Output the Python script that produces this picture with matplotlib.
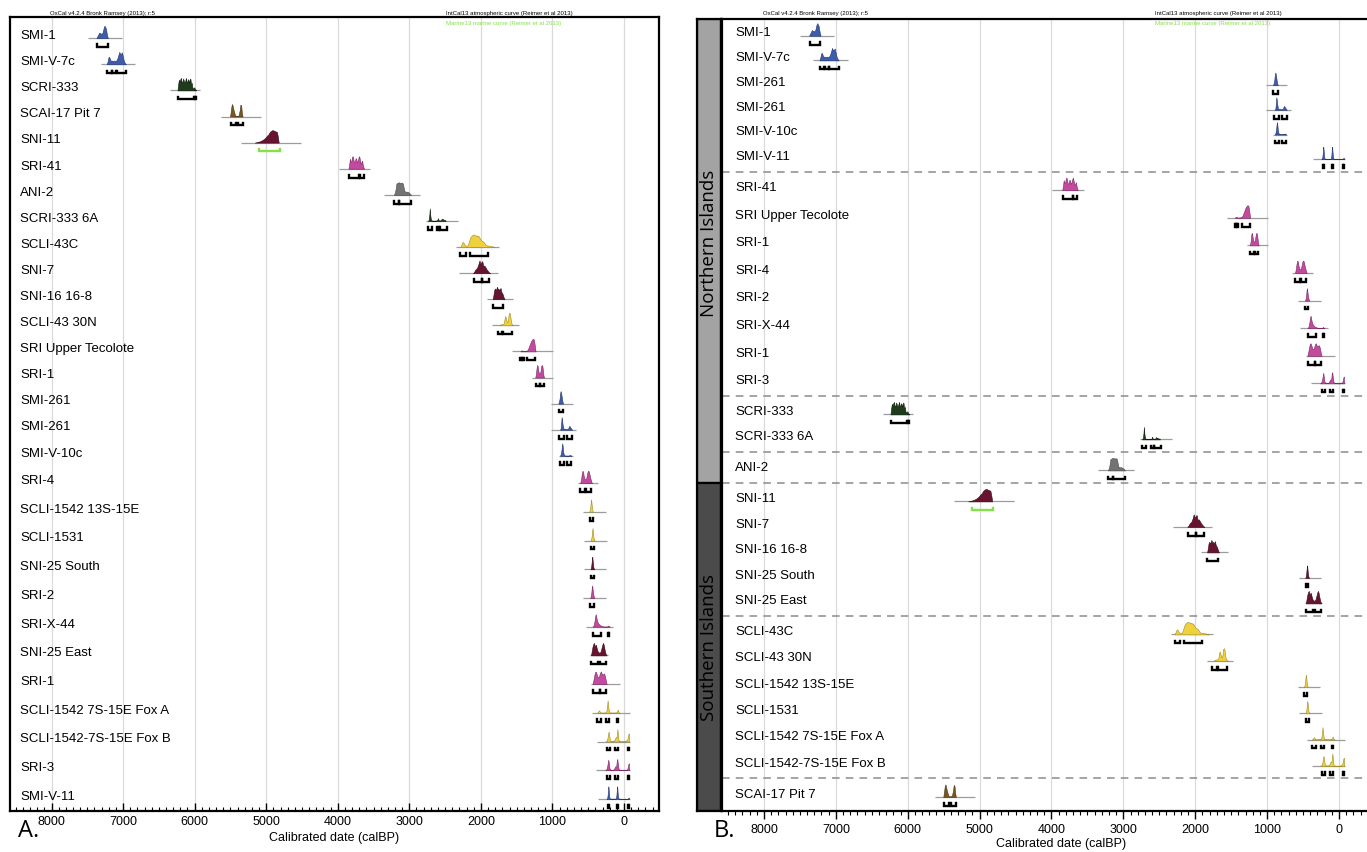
import re
import matplotlib
matplotlib.use("Agg")
import matplotlib.pyplot as plt
from matplotlib.ticker import MultipleLocator
from matplotlib.patches import Rectangle
import numpy as np

plt.rcParams['font.family'] = ['Liberation Sans', 'DejaVu Sans']

# ---------------------------------------------------------------------------
# Calibrated probability profiles (calBP, relative probability) per sample
# ---------------------------------------------------------------------------
density_dates = {
    'SMI-1': [7372, 7360, 7345, 7335, 7320, 7305, 7290, 7280, 7268, 7258, 7248, 7240, 7232, 7222, 7212],
    'SMI-V-7c': [7228, 7215, 7205, 7195, 7185, 7175, 7160, 7140, 7120, 7105, 7090, 7078, 7065, 7052,
                 7040, 7028, 7015, 7005, 6990, 6975, 6960],
    'SCRI-333': [6240, 6230, 6220, 6212, 6200, 6190, 6180, 6170, 6160, 6150, 6140, 6130, 6120, 6110,
                 6100, 6090, 6080, 6070, 6060, 6050, 6040, 6030, 6015, 6005, 5995, 5985, 5978],
    'SCAI-17 Pit 7': [5505, 5495, 5485, 5475, 5465, 5455, 5445, 5435, 5420, 5400, 5385, 5370, 5360,
                      5350, 5340, 5330],
    'SNI-11': [5160, 5120, 5080, 5040, 5010, 4990, 4970, 4950, 4930, 4910, 4890, 4870, 4850, 4835, 4825],
    'SRI-41': [3850, 3840, 3830, 3820, 3810, 3800, 3790, 3780, 3770, 3760, 3750, 3740, 3730, 3720,
               3710, 3700, 3690, 3680, 3670, 3660, 3650, 3640, 3632],
    'ANI-2': [3215, 3200, 3190, 3180, 3165, 3150, 3135, 3120, 3105, 3090, 3080, 3070, 3050, 3030,
              3010, 2990, 2976],
    'SCRI-333 6A': [2740, 2728, 2720, 2714, 2708, 2700, 2690, 2680, 2640, 2610, 2600, 2590, 2580,
                    2560, 2545, 2535, 2525, 2510, 2500, 2490],
    'SCLI-43C': [2290, 2275, 2262, 2250, 2238, 2225, 2212, 2200, 2185, 2170, 2158, 2145, 2130, 2115,
                 2100, 2090, 2080, 2070, 2060, 2050, 2040, 2030, 2015, 2000, 1985, 1970, 1950, 1930,
                 1910, 1880, 1850, 1830, 1810],
    'SNI-7': [2110, 2095, 2085, 2075, 2065, 2055, 2045, 2035, 2025, 2018, 2010, 2000, 1990, 1980,
              1970, 1960, 1950, 1935, 1920, 1900, 1885, 1872],
    'SNI-16 16-8': [1835, 1825, 1815, 1805, 1795, 1785, 1775, 1765, 1755, 1745, 1735, 1725, 1715,
                    1705, 1695, 1685, 1670],
    'SCLI-43 30N': [1745, 1720, 1700, 1690, 1680, 1670, 1660, 1650, 1640, 1630, 1620, 1610, 1600,
                    1590, 1580, 1570, 1560, 1550],
    'SRI Upper Tecolote': [1450, 1440, 1430, 1420, 1410, 1395, 1380, 1365, 1350, 1340, 1330, 1320,
                           1310, 1300, 1290, 1280, 1270, 1260, 1250, 1240, 1235],
    'SRI-1/a': [1240, 1230, 1222, 1215, 1208, 1200, 1190, 1180, 1172, 1165, 1155, 1148, 1140, 1132,
                1125, 1117],
    'SMI-261/a': [918, 908, 900, 893, 886, 880, 872, 865, 858, 850],
    'SMI-261/b': [895, 885, 878, 872, 866, 860, 852, 845, 835, 820, 800, 785, 775, 768, 760, 752,
                  745, 735, 725],
    'SMI-V-10c': [895, 885, 875, 868, 862, 856, 850, 840, 830, 800, 770, 760, 752, 745, 735],
    'SRI-4': [612, 600, 590, 580, 572, 562, 552, 540, 530, 520, 510, 500, 492, 482, 470, 458, 448],
    'SCLI-1542 13S-15E': [490, 480, 472, 465, 460, 455, 448, 440, 430],
    'SCLI-1531': [470, 460, 452, 445, 440, 434, 428, 420, 410],
    'SNI-25 South': [470, 462, 455, 448, 443, 438, 432, 425, 415],
    'SRI-2': [475, 466, 458, 450, 444, 438, 430, 422, 412],
    'SRI-X-44': [440, 425, 412, 402, 395, 388, 378, 365, 350, 335, 320, 305, 290, 240, 228, 220,
                 212, 200],
    'SNI-25 East': [462, 452, 440, 430, 420, 410, 400, 392, 382, 370, 355, 340, 325, 312, 300, 292,
                    284, 276, 265, 255, 245],
    'SRI-1/b': [440, 428, 415, 405, 395, 385, 372, 360, 350, 340, 330, 322, 312, 300, 290, 280, 270,
                258, 248, 240],
    'SCLI-1542 7S-15E Fox A': [380, 365, 355, 348, 340, 330, 300, 260, 245, 235, 229, 222, 212, 200,
                               150, 110, 95, 88, 82, 75, 60],
    'SCLI-1542-7S-15E Fox B': [260, 245, 232, 222, 214, 207, 198, 185, 165, 145, 130, 120, 112, 105,
                               98, 92, 86, 78, 68, 40, 0, -20, -45, -55, -62, -67, -72],
    'SRI-3': [262, 248, 235, 226, 219, 212, 203, 190, 170, 150, 135, 125, 116, 108, 100, 94, 86, 76,
              65, 30, -10, -40, -52, -60, -66, -72],
    'SMI-V-11': [245, 235, 228, 222, 218, 213, 207, 198, 150, 115, 106, 100, 95, 90, 84, 75, 20,
                 -50, -60, -66, -72],
}

density_values = {
    'SMI-1': [0, .15, .3, .45, .4, .35, .4, .6, .9, 1.0, .85, .8, .5, .2, 0],
    'SMI-V-7c': [0, .25, .55, .6, .45, .3, .3, .28, .3, .25, .35, .5, .75, 1.0, .8, .85, .95, .7, .3, .1, 0],
    'SCRI-333': [0, .5, .85, .7, .9, 1.0, .6, .7, .95, .75, .6, .8, 1.0, .65, .7, .9, .6, .85, .95,
                 .5, .6, .2, .15, .25, .1, .05, 0],
    'SCAI-17 Pit 7': [0, .4, .85, 1.0, .75, .5, .3, .1, .05, .05, .1, .5, .95, .9, .3, 0],
    'SNI-11': [0, .05, .12, .25, .4, .55, .65, .85, .95, 1.0, .95, .9, .85, .4, 0],
    'SRI-41': [0, .35, .8, .55, .6, .95, 1.0, .7, .5, .55, .85, .75, .5, .6, .9, 1.0, .7, .4, .5,
               .65, .3, .1, 0],
    'ANI-2': [0, .2, .5, .9, .95, 1.0, .97, .95, .98, .9, .6, .3, .25, .25, .2, .08, 0],
    'SCRI-333 6A': [0, .1, .5, 1.0, .5, .15, .05, .02, .02, .05, .22, .05, .03, .05, .18, .15, .12,
                    .05, .08, 0],
    'SCLI-43C': [0, .15, .35, .4, .3, .15, .1, .08, .15, .35, .6, .8, .9, .98, 1.0, .97, .95, .9,
                 .93, .85, .9, .85, .7, .55, .5, .45, .3, .15, .12, .1, .06, .03, 0],
    'SNI-7': [0, .1, .2, .3, .35, .4, .55, .7, .95, 1.0, .75, .8, .9, .95, .65, .55, .6, .45, .3,
              .15, .05, 0],
    'SNI-16 16-8': [0, .3, .7, .85, .75, .8, 1.0, .8, .85, .7, .8, .9, .6, .5, .4, .2, 0],
    'SCLI-43 30N': [0, .08, .1, .12, .15, .5, .75, .55, .3, .25, .5, .95, 1.0, .8, .3, .1, .04, 0],
    'SRI Upper Tecolote': [0, .06, .08, .05, .02, .02, .03, .05, .1, .2, .35, .5, .65, .8, .9, .98,
                           1.0, .95, .6, .15, 0],
    'SRI-1/a': [0, .3, .75, 1.0, .95, .6, .35, .3, .35, .6, .95, 1.0, .9, .5, .15, 0],
    'SMI-261/a': [0, .15, .4, .8, 1.0, .9, .6, .3, .1, 0],
    'SMI-261/b': [0, .1, .5, 1.0, .85, .5, .2, .1, .08, .06, .05, .08, .15, .3, .28, .2, .15, .05, 0],
    'SMI-V-10c': [0, .1, .4, .8, 1.0, .7, .3, .1, .03, .02, .02, .06, .08, .04, 0],
    'SRI-4': [0, .3, .75, 1.0, .9, .55, .35, .3, .35, .6, .9, 1.0, .95, .7, .4, .15, 0],
    'SCLI-1542 13S-15E': [0, .1, .35, .8, 1.0, .75, .3, .08, 0],
    'SCLI-1531': [0, .1, .35, .8, 1.0, .7, .3, .08, 0],
    'SNI-25 South': [0, .1, .4, .85, 1.0, .7, .3, .1, 0],
    'SRI-2': [0, .1, .35, .85, 1.0, .65, .3, .1, 0],
    'SRI-X-44': [0, .1, .45, .85, 1.0, .8, .5, .3, .2, .12, .08, .05, .02, .01, .05, .1, .04, 0],
    'SNI-25 East': [0, .3, .7, .9, 1.0, .8, .75, .85, .6, .35, .25, .2, .35, .65, .9, 1.0, .85, .6,
                    .3, .1, 0],
    'SRI-1/b': [0, .3, .7, .95, 1.0, .85, .6, .55, .6, .8, .95, 1.0, .85, .75, .8, .85, .7, .4, .1, 0],
    'SCLI-1542 7S-15E Fox A': [0, .05, .15, .2, .12, .03, .02, .03, .15, .6, 1.0, .6, .15, .03, .02,
                               .03, .12, .25, .15, .04, 0],
    'SCLI-1542-7S-15E Fox B': [0, .05, .25, .6, .8, .5, .15, .05, .03, .05, .15, .3, .35, .3, .6,
                               1.0, .6, .15, .03, .01, .01, .03, .15, .4, .6, .65, 0],
    'SRI-3': [0, .05, .3, .6, .85, .55, .15, .05, .02, .04, .15, .3, .3, .35, .8, .9, .5, .12, .03,
              .01, .01, .05, .2, .45, .55, 0],
    'SMI-V-11': [0, .05, .35, .8, 1.0, .7, .2, .02, .02, .03, .3, .8, 1.0, .6, .2, .02, .01, .01,
                 .08, .12, 0],
}

# extent of the plotted calibration window (grey base line), calBP
baseline_span = {
    'SMI-1': (7495, 7020), 'SMI-V-7c': (7311, 6835), 'SCRI-333': (6340, 5930),
    'SCAI-17 Pit 7': (5625, 5070), 'SNI-11': (5356, 4518), 'SRI-41': (3986, 3548),
    'ANI-2': (3357, 2857), 'SCRI-333 6A': (2771, 2319), 'SCLI-43C': (2343, 1752),
    'SNI-7': (2310, 1762), 'SNI-16 16-8': (1919, 1548), 'SCLI-43 30N': (1843, 1471),
    'SRI Upper Tecolote': (1563, 986), 'SRI-1/a': (1282, 986), 'SMI-261/a': (1014, 718),
    'SMI-261/b': (1014, 671), 'SMI-V-10c': (915, 718), 'SRI-4': (648, 366),
    'SCLI-1542 13S-15E': (577, 258), 'SCLI-1531': (563, 235), 'SNI-25 South': (562, 252),
    'SRI-2': (571, 252), 'SRI-X-44': (538, 157), 'SNI-25 East': (470, 230),
    'SRI-1/b': (457, 62), 'SCLI-1542 7S-15E Fox A': (443, -81),
    'SCLI-1542-7S-15E Fox B': (371, -81), 'SRI-3': (395, -81), 'SMI-V-11': (362, -81),
}

# 95.4% probability ranges, calBP
ranges95 = {
    'SMI-1': [(7365, 7215)],
    'SMI-V-7c': [(7225, 7160), (7150, 7100), (7090, 6960)],
    'SCRI-333': [(6235, 6010), (6000, 5985)],
    'SCAI-17 Pit 7': [(5495, 5420), (5400, 5330)],
    'SNI-11': [(5106, 4810)],
    'SRI-41': [(3845, 3700), (3695, 3640)],
    'ANI-2': [(3210, 3150), (3145, 2980)],
    'SCRI-333 6A': [(2740, 2690), (2620, 2580), (2570, 2470)],
    'SCLI-43C': [(2285, 2205), (2157, 1905)],
    'SNI-7': [(2100, 1990), (1985, 1880)],
    'SNI-16 16-8': [(1833, 1690)],
    'SCLI-43 30N': [(1760, 1700), (1690, 1560)],
    'SRI Upper Tecolote': [(1450, 1430), (1420, 1400), (1350, 1240)],
    'SRI-1/a': [(1235, 1180), (1175, 1120)],
    'SMI-261/a': [(915, 855)],
    'SMI-261/b': [(905, 840), (790, 720)],
    'SMI-V-10c': [(896, 836), (793, 737)],
    'SRI-4': [(610, 540), (535, 460)],
    'SCLI-1542 13S-15E': [(480, 440)],
    'SCLI-1531': [(465, 420)],
    'SNI-25 South': [(465, 425)],
    'SRI-2': [(470, 425)],
    'SRI-X-44': [(430, 325), (228, 210)],
    'SNI-25 East': [(455, 360), (335, 250)],
    'SRI-1/b': [(435, 340), (330, 245)],
    'SCLI-1542 7S-15E Fox A': [(375, 320), (250, 205), (92, 80)],
    'SCLI-1542-7S-15E Fox B': [(235, 195), (130, 80), (-50, -75)],
    'SRI-3': [(235, 200), (130, 85), (-50, -75)],
    'SMI-V-11': [(225, 212), (102, 90), (-55, -75)],
}

# samples calibrated against the marine curve
marine_samples = ['SNI-11']

# plotting order, panel A (chronological)
order_a = ['SMI-1', 'SMI-V-7c', 'SCRI-333', 'SCAI-17 Pit 7', 'SNI-11', 'SRI-41', 'ANI-2',
           'SCRI-333 6A', 'SCLI-43C', 'SNI-7', 'SNI-16 16-8', 'SCLI-43 30N', 'SRI Upper Tecolote',
           'SRI-1/a', 'SMI-261/a', 'SMI-261/b', 'SMI-V-10c', 'SRI-4', 'SCLI-1542 13S-15E',
           'SCLI-1531', 'SNI-25 South', 'SRI-2', 'SRI-X-44', 'SNI-25 East', 'SRI-1/b',
           'SCLI-1542 7S-15E Fox A', 'SCLI-1542-7S-15E Fox B', 'SRI-3', 'SMI-V-11']

# panel B, grouped by island
groups_b = [
    ['SMI-1', 'SMI-V-7c', 'SMI-261/a', 'SMI-261/b', 'SMI-V-10c', 'SMI-V-11'],
    ['SRI-41', 'SRI Upper Tecolote', 'SRI-1/a', 'SRI-4', 'SRI-2', 'SRI-X-44', 'SRI-1/b', 'SRI-3'],
    ['SCRI-333', 'SCRI-333 6A'],
    ['ANI-2'],
    ['SNI-11', 'SNI-7', 'SNI-16 16-8', 'SNI-25 South', 'SNI-25 East'],
    ['SCLI-43C', 'SCLI-43 30N', 'SCLI-1542 13S-15E', 'SCLI-1531', 'SCLI-1542 7S-15E Fox A',
     'SCLI-1542-7S-15E Fox B'],
    ['SCAI-17 Pit 7'],
]
regions = ['Northern Islands', 'Southern Islands']
northern_group_count = 4

island_colours = {
    'SMI': '#3d5cab', 'SRI': '#c24b9f', 'SCRI': '#1f3b1b', 'SCAI': '#7a5622',
    'SNI': '#671430', 'ANI': '#737373', 'SCLI': '#efd13e',
}
edge_colours = {
    'SMI': '#23366e', 'SRI': '#7a2463', 'SCRI': '#0c1a0a', 'SCAI': '#4a3210',
    'SNI': '#3a0818', 'ANI': '#444444', 'SCLI': '#a08a20',
}

# ---------------------------------------------------------------------------
# Layout (pixel based)
# ---------------------------------------------------------------------------
W, H = 1367, 853
fig = plt.figure(figsize=(W / 100, H / 100), dpi=100)


def add_px_axes(x0, y0, x1, y1):
    return fig.add_axes([x0 / W, 1 - y1 / H, (x1 - x0) / W, (y1 - y0) / H])


PEAK = 12.5      # px height of a normalised distribution
BASE_OFF = 3.2   # base line below the row centre
BRACKET_OFF = 12.0
TICK_UP = 2.6
LABEL_SIZE = 9.5


def draw_sample(ax, key, y):
    island = re.match(r'[A-Z]+', key).group(0)
    base = y + BASE_OFF
    x0, x1 = baseline_span[key]
    ax.plot([x0, x1], [base, base], color='#9c9c9c', lw=0.9, zorder=2,
            solid_capstyle='butt')
    d = np.asarray(density_dates[key], dtype=float)
    v = np.asarray(density_values[key], dtype=float)
    ax.fill_between(d, base, base - PEAK * v, facecolor=island_colours[island],
                    edgecolor=edge_colours[island], lw=0.4, zorder=3)
    bcol = '#86e04a' if key in marine_samples else 'black'
    yb = y + BRACKET_OFF
    for a, b in ranges95[key]:
        ax.plot([a, a, b, b], [yb - TICK_UP, yb, yb, yb - TICK_UP], color=bcol, lw=1.7,
                solid_joinstyle='miter', zorder=3)


def label_row(ax, key, y, offset):
    ax.annotate(key.split('/')[0], xy=(0, y), xycoords=('axes fraction', 'data'),
                xytext=(offset, 0), textcoords='offset pixels', fontsize=LABEL_SIZE,
                va='center', ha='left')


def style_axis(ax, tickdir, labelpad):
    ax.xaxis.set_major_locator(MultipleLocator(1000))
    ax.xaxis.set_minor_locator(MultipleLocator(100))
    ax.set_yticks([])
    ax.tick_params(axis='x', which='major', direction=tickdir, length=6, width=1.0,
                   labelsize=9, pad=3, top=False)
    ax.tick_params(axis='x', which='minor', direction=tickdir, length=3, width=0.8, top=False)
    ax.grid(axis='x', which='major', color='#dadada', lw=0.9, zorder=0)
    ax.set_axisbelow(True)
    for s in ax.spines.values():
        s.set_linewidth(1.6)
    ax.set_xlabel('Calibrated date (calBP)', fontsize=9, labelpad=labelpad)


def header(x_oxcal, x_curve, y_top):
    fig.text(x_oxcal / W, 1 - y_top / H, 'OxCal v4.2.4 Bronk Ramsey (2013); r:5',
             fontsize=4.3, va='center')
    fig.text(x_curve / W, 1 - y_top / H, 'IntCal13 atmospheric curve (Reimer et al 2013)',
             fontsize=4.3, va='center')
    fig.text(x_curve / W, 1 - (y_top + 9) / H, 'Marine13 marine curve (Reimer et al 2013)',
             fontsize=4.3, va='center', color='#86e04a')


# ----- panel A -------------------------------------------------------------
A_TOP, A_BOT = 18, 812
axA = add_px_axes(10, A_TOP, 659, A_BOT)
axA.set_xlim(8580, -489)
axA.set_ylim(A_BOT, A_TOP)
style_axis(axA, 'in', 3)

# row centres: tighter spacing for the older half, wider for the recent half
rows_a = []
y = 36.0
for i in range(len(order_a)):
    if i > 0:
        y += 26.1 if i < 17 else (27.4 if i == 17 else 28.7)
    rows_a.append(y)
for key, y in zip(order_a, rows_a):
    label_row(axA, key, y, 10)
    draw_sample(axA, key, y)
header(50, 446, 14)
fig.text(18 / W, 1 - 831 / H, 'A.', fontsize=17, family=['Open Sans', 'DejaVu Sans'],
         va='center', ha='left')

# ----- panel B -------------------------------------------------------------
B_TOP, B_BOT = 20, 812
axB = add_px_axes(722, B_TOP, 1400, B_BOT)
axB.set_xlim(8584, -849)
axB.set_ylim(B_BOT, B_TOP)
style_axis(axB, 'out', 1)
axB.spines['right'].set_visible(False)

pitch_b = [24.7, 27.6, 25.0, 25.0, 25.5, 26.3, 25.0]
group_gap = 31.0
y = 33.5
separators = []
for gi, (keys, p) in enumerate(zip(groups_b, pitch_b)):
    if gi > 0:
        separators.append(y + group_gap / 2)
        y += group_gap
    for k, key in enumerate(keys):
        if k > 0:
            y += p
        label_row(axB, key, y, 13)
        draw_sample(axB, key, y)
for s in separators:
    axB.axhline(s, color='#8c8c8c', lw=1.1, ls=(0, (5, 4)), zorder=1)
header(763, 1155, 14)
fig.text(714 / W, 1 - 831 / H, 'B.', fontsize=17, family=['Open Sans', 'DejaVu Sans'],
         va='center', ha='left')

# region band to the left of panel B
split = separators[northern_group_count - 1]
band = add_px_axes(697, B_TOP, 721, B_BOT)
band.set_xlim(0, 1)
band.set_ylim(B_BOT, B_TOP)
band.set_xticks([])
band.set_yticks([])
band.add_patch(Rectangle((0, B_TOP), 1, split - B_TOP, facecolor='#a3a3a3',
                         edgecolor='black', lw=1.6))
band.add_patch(Rectangle((0, split), 1, B_BOT - split, facecolor='#4b4b4b',
                         edgecolor='black', lw=1.6))
for sp in band.spines.values():
    sp.set_linewidth(1.6)
band.text(0.5, (B_TOP + split) / 2 - 8, regions[0], rotation=90, ha='center', va='center',
          fontsize=13.5, family=['Open Sans', 'DejaVu Sans'])
band.text(0.5, (split + B_BOT) / 2, regions[1], rotation=90, ha='center', va='center',
          fontsize=13.5, family=['Open Sans', 'DejaVu Sans'])

fig.savefig('out.png', dpi=100)
